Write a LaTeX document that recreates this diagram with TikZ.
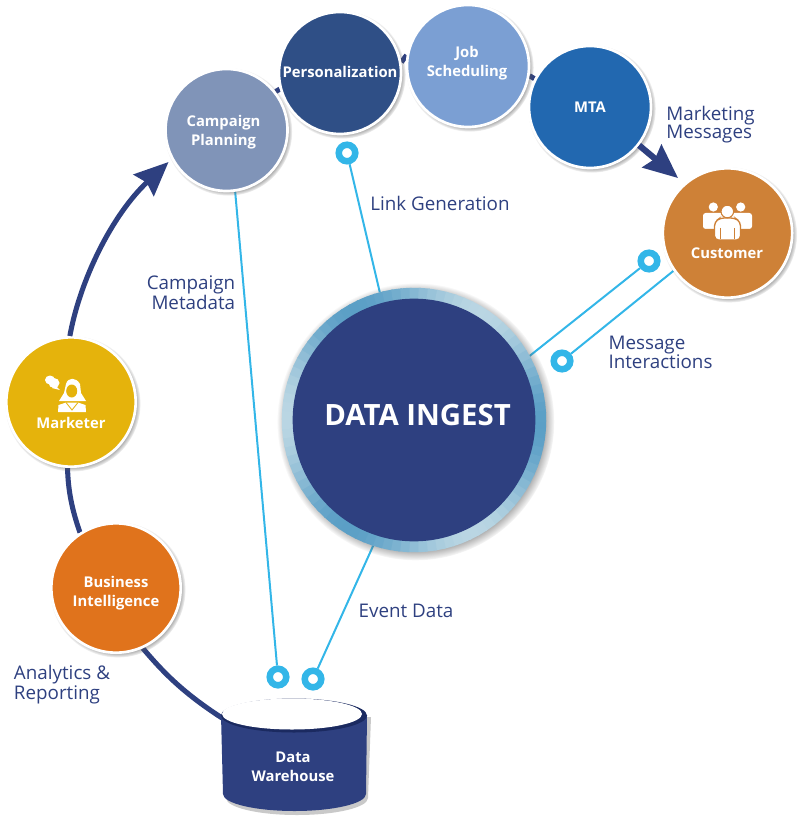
\documentclass[tikz,border=0pt]{standalone}
\usepackage{fontspec}
\setmainfont{Open Sans}
\usepackage{xcolor}
\usetikzlibrary{arrows.meta,shadows,backgrounds}
\definecolor{navyblue}{HTML}{2E4080}
\definecolor{navydark}{HTML}{1B2A60}
\definecolor{ringcyan}{HTML}{33B6E8}
\definecolor{campaigncol}{HTML}{8094B8}
\definecolor{personalcol}{HTML}{2F4F86}
\definecolor{jobcol}{HTML}{7B9FD3}
\definecolor{mtacol}{HTML}{2268B0}
\definecolor{customercol}{HTML}{CE8137}
\definecolor{marketercol}{HTML}{E5B30C}
\definecolor{bicol}{HTML}{E0731C}
\definecolor{ingestdark}{HTML}{5B9FC6}
\definecolor{ingestlight}{HTML}{BAD6E3}
\tikzset{
  softshadow/.style={
    circular drop shadow={shadow scale=1.05, shadow xshift=1.2pt, shadow yshift=-1.2pt, fill=black!65}
  },
  bubble/.style={
    circle, draw=white, line width=2pt, inner sep=0pt, minimum size=#1,
    softshadow
  },
  bubble/.default=91.5pt,
  bubblefill/.style={fill=#1},
  biglabel/.style={text=navyblue, align=left, inner sep=0pt, font=\fontsize{14.1}{13.5}\selectfont},
  inlabel/.style={text=white, align=center, inner sep=0pt, font=\fontsize{11.1}{14.2}\selectfont\bfseries},
  linkring/.style={circle, draw=ringcyan, fill=white, line width=4.9pt, inner sep=0pt, minimum size=12.4pt},
  linkline/.style={draw=ringcyan, line width=1.5pt},
  flowline/.style={draw=navyblue, line width=3.8pt},
  flowarrow/.style={flowline, -{Stealth[length=25.5pt,width=22pt,inset=3pt]}}
}
\begin{document}
\begin{tikzpicture}[x=0.75pt,y=-0.75pt]
\useasboundingbox (0,0) rectangle (800,823);

\node[bubble, bubblefill=campaigncol] (campaign) at (226.5,130) {};
\node[bubble, bubblefill=personalcol] (personal) at (340,73) {};
\node[bubble, bubblefill=jobcol] (job) at (468,66) {};
\node[bubble, bubblefill=mtacol] (mta) at (590,107) {};
\node[bubble=97pt, bubblefill=customercol] (customer) at (727.5,233) {};
\node[bubble=97pt, bubblefill=marketercol] (marketer) at (71,402) {};
\node[bubble=97pt, bubblefill=bicol] (bi) at (116,588) {};
\node[inlabel] (campaignlabel) at (223.5,132.5) {Campaign\\Planning};
\node[inlabel] (personallabel) at (340,72) {Personalization};
\node[inlabel] (joblabel) at (467,63.5) {Job\\Scheduling};
\node[inlabel] (mtalabel) at (590,107) {MTA};
\node[inlabel] (bilabel) at (116,593.5) {Business\\Intelligence};
\node[inlabel] (customerlabel) at (727,253.5) {Customer};
\node[inlabel] (marketerlabel) at (71,422.5) {Marketer};

\node[circle, minimum size=198pt, inner sep=0pt, softshadow] (ingest) at (414,420) {};
\foreach \ang in {0,4,...,356}{
  \pgfmathsetmacro{\mixval}{50+50*cos(3*\ang)}
  \draw[ingestdark!\mixval!ingestlight, line width=8.6pt] (ingest.center) ++(\ang:126.5) arc (\ang:\ang+5:126.5);
}
\node[circle, fill=navyblue, minimum size=182pt, inner sep=0pt] (ingestcore) at (ingest.center) {};
\node[inlabel, font=\fontsize{22}{22}\selectfont\bfseries] (ingestlabel) at (417.5,415) {DATA INGEST};

\coordinate (warehouseedge) at (222,718);
\fill[black!70, opacity=.3] (224,717) -- (226,798) arc (180:0:71 and 17) -- (371,717) -- cycle;
\fill[navyblue] (221,715) -- (223,794) arc (180:0:71.5 and 17) -- (367,715) -- cycle;
\fill[navydark] (294,715.5) ellipse (73 and 17);
\fill[white] (292,714) ellipse (70 and 15.5);
\node[inlabel] (warehouse) at (293,766.5) {Data\\Warehouse};

\node[linkring] (ringpersonal) at (347,153) {};
\node[linkring] (ringcustomer) at (649,261) {};
\node[linkring] (ringingest) at (562,361) {};
\node[linkring] (ringcampaign) at (278,677) {};
\node[linkring] (ringevent) at (313,679) {};

\node[biglabel] (lblmarketing) at (710.5,125) {Marketing\\Messages};
\node[biglabel] (lbllink) at (440,203) {Link Generation};
\node[biglabel, align=right] (lblmetadata) at (191,292.5) {Campaign\\Metadata};
\node[biglabel] (lblinteractions) at (660.5,352.5) {Message\\Interactions};
\node[biglabel] (lblevent) at (406,611) {Event Data};
\node[biglabel] (lblanalytics) at (62,684.5) {Analytics \&\\Reporting};

\fill[white] (50,380) ellipse (5 and 4.5) (54,383) ellipse (5.5 and 5) (56,386) -- (60,390) -- (52,388) -- cycle;
\fill[white] (59,401) -- (64,393) -- (66,384) .. controls (68,377) and (76,377) .. (80,384) -- (81,393) -- (86,401) -- cycle;
\fill[marketercol] (71.7,391) ellipse (5.5 and 6.5);
\draw[marketercol, line width=.6pt] (60,402) -- (85,402);
\fill[white] (58,412) -- (58.5,405) -- (66,402.5) -- (78,402.5) -- (85.5,405) -- (86,412) -- cycle;
\draw[marketercol, line width=.6pt] (66,402.5) -- (72,410) -- (78,402.5);

\fill[white] (713.3,207) circle (4.6) (740.7,207) circle (4.6);
\fill[white, rounded corners=2pt] (703,229) rectangle (752,213);
\draw[customercol, fill=white, line width=1pt, rounded corners=3pt] (714.5,240) -- (714.5,222) -- (720,218) -- (735,218) -- (740.5,222) -- (740.5,240) -- cycle;
\fill[customercol] (703,229) rectangle (714,240) (741,229) rectangle (752,240);
\draw[customercol, line width=.6pt] (720,228) -- (720,239) (734.5,228) -- (734.5,239);
\draw[customercol, fill=white, line width=.8pt] (727.3,211.5) circle (6.3);

\begin{scope}[on background layer]
\draw[flowline] (campaign.38) -- (personal.195);
\draw[flowline] (personal.10) -- (job.170);
\draw[flowline] (job.-9) -- (mta.153);
\draw[flowline] (marketer.-93) .. controls (68,490) and (72,510) .. (bi.123);
\draw[flowline] (bi.-66) .. controls (163,672) and (182,692) .. (warehouseedge);
\draw[linkline] (ringcampaign) -- (campaign.-82);
\draw[linkline] (ringpersonal) -- (ingest.105);
\draw[linkline] (ringevent) -- (ingest.-108);
\draw[linkline] (ingest.29) -- (ringcustomer);
\draw[linkline] (ringingest) -- (customer.215);
\end{scope}
\draw[flowarrow, line width=4.6pt, shorten >=6pt] (mta.-38) -- (customer.131);
\draw[flowarrow, shorten >=3pt] (marketer.91) .. controls (80,280) and (112,215) .. (campaign.208);
\end{tikzpicture}
\end{document}
